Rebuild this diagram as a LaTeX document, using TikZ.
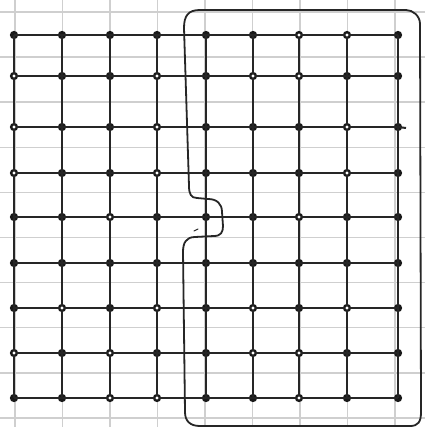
\documentclass[tikz,border=0pt]{standalone}
\begin{document}
\begin{tikzpicture}[x=1pt,y=-1pt,
  paper/.style={draw=black!19,line width=1.5pt},
  pen/.style={draw=black!85,line width=1.8pt,line cap=round,line join=round},
  gridline/.style={draw=black!85,line width=2pt},
  dot/.style={circle,draw=black!90,fill=black!90,line width=1.2pt,inner sep=0pt,minimum size=7pt}]
\useasboundingbox (0,0) rectangle (425,427);
\fill[white] (0,0) rectangle (425,427);
% graph paper
\foreach \i in {0,...,8} \draw[paper] ({15+47.5*\i},0) -- ++(0,427);
\foreach \j in {0,...,9} \draw[paper] (0,{12+45.1*\j}) -- ++(425,0);
% enclosure
\draw[pen] (189,186) -- (184,28) .. controls (184,16) and (188,10) .. (200,10)
  -- (406,10) .. controls (413,10) and (420,16) .. (420,24)
  -- (421,412) .. controls (421,422) and (418,426) .. (410,426)
  -- (200,426) .. controls (190,426) and (185,421) .. (185,412)
  -- (183,252) .. controls (183,243) and (186,237) .. (195,237)
  -- (214,236) .. controls (221,236) and (223,232) .. (223,226)
  -- (222,212) .. controls (222,204) and (217,199) .. (208,199)
  -- (197,198) .. controls (191,198) and (189,194) .. (189,186) -- cycle;
\draw[pen,line width=1pt] (194,231) -- (198,229);
% dots
\foreach \r/\y in {1/35,2/76,3/127,4/173,5/217,6/263,7/308,8/353,9/398}
  \foreach \c/\x in {1/14,2/62,3/110,4/157,5/206,6/253,7/299,8/347,9/398}
    \node[dot] (p-\r-\c) at (\x,\y) {};
\coordinate (e3) at (406,128);
% grid lines
\foreach \r in {1,...,9}
  \draw[gridline] (p-\r-1.center) \foreach \c in {2,...,9} { -- (p-\r-\c.center) };
\foreach \c in {1,...,9}
  \draw[gridline] (p-1-\c.center) \foreach \r in {2,...,9} { -- (p-\r-\c.center) };
\draw[gridline] (p-3-9.center) -- (e3);
% hollow dots
\foreach \r/\c in {2/1,2/4,3/1,3/4,4/1,4/4,1/7,1/8,2/6,2/7,3/8,4/8,5/3,5/7,7/2,7/4,7/6,7/8,8/1,8/3,8/6,8/7,9/3,9/4,9/7}
  \fill[white] (p-\r-\c) circle (1.7pt);
\end{tikzpicture}
\end{document}
